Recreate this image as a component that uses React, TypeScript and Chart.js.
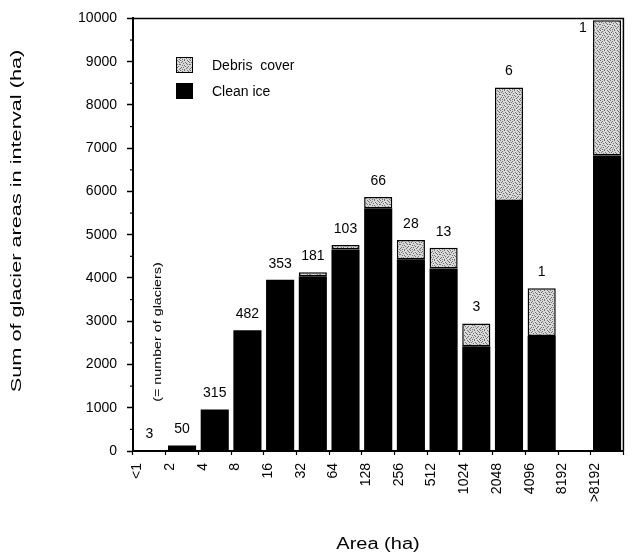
import React, { useEffect, useRef } from "react";
import { Chart, registerables } from "chart.js";

Chart.register(...registerables);

// Size classes (ha); each label marks the lower bound of its bar
const areaClasses = ["<1", "2", "4", "8", "16", "32", "64", "128", "256", "512", "1024", "2048", "4096", "8192", ">8192"];
// Summed glacier area per class (ha)
const cleanIce = [20, 130, 960, 2790, 3960, 4040, 4660, 5610, 4430, 4220, 2420, 5780, 2660, 0, 6830];
const debrisCover = [0, 0, 0, 0, 0, 90, 100, 260, 450, 480, 530, 2620, 1100, 0, 3130];
// Number of glaciers in each class
const glacierCounts: (number | null)[] = [3, 50, 315, 482, 353, 181, 103, 66, 28, 13, 3, 6, 1, null, 1];

const Y_MAX = 10000;
const Y_STEP = 1000;

const FONT = "'Liberation Sans', Arial, Helvetica, sans-serif";

// Fine stipple used for the debris-covered part
function makeStipple(): CanvasPattern | string {
  const mask = [
    "1000100100",
    "0010000010",
    "0100010001",
    "0001001000",
    "1000000101",
    "0010100000",
    "0000010010",
    "0101000100",
    "1000001000",
    "0010100001",
  ];
  const c = document.createElement("canvas");
  c.width = mask[0].length;
  c.height = mask.length;
  const g = c.getContext("2d");
  if (!g) return "#c8c8c8";
  g.fillStyle = "#d8d8d8";
  g.fillRect(0, 0, c.width, c.height);
  g.fillStyle = "#707070";
  mask.forEach((row, y) =>
    row.split("").forEach((ch, x) => {
      if (ch === "1") g.fillRect(x, y, 1, 1);
    })
  );
  return g.createPattern(c, "repeat") || "#c8c8c8";
}

function drawText(
  ctx: CanvasRenderingContext2D,
  text: string,
  x: number,
  y: number,
  font: string,
  stretch: number,
  vertical: boolean,
  align: CanvasTextAlign = "center"
) {
  ctx.save();
  ctx.translate(x, y);
  if (vertical) ctx.rotate(-Math.PI / 2);
  ctx.scale(stretch, 1);
  ctx.font = font;
  ctx.fillStyle = "#000";
  ctx.textAlign = align;
  ctx.textBaseline = "middle";
  ctx.fillText(text, 0, 0);
  ctx.restore();
}

const decorations = {
  id: "glacierDecorations",
  afterDatasetsDraw(chart: any) {
    const ctx: CanvasRenderingContext2D = chart.ctx;
    const { left, right, top, bottom } = chart.chartArea;
    const yScale = chart.scales.y;
    const meta = chart.getDatasetMeta(0);

    // frame on top and right
    ctx.save();
    ctx.strokeStyle = "#000";
    ctx.lineWidth = 1.5;
    ctx.beginPath();
    ctx.moveTo(left, top);
    ctx.lineTo(right, top);
    ctx.lineTo(right, bottom);
    ctx.stroke();

    // minor ticks on the value axis
    ctx.lineWidth = 1.2;
    for (let v = Y_STEP / 2; v < Y_MAX; v += Y_STEP) {
      const py = yScale.getPixelForValue(v);
      ctx.beginPath();
      ctx.moveTo(left - 3, py);
      ctx.lineTo(left, py);
      ctx.stroke();
    }
    ctx.restore();

    // glacier counts above the bars (beside the bar when it reaches the frame)
    glacierCounts.forEach((n, i) => {
      if (n === null) return;
      const total = cleanIce[i] + debrisCover[i];
      const bar = meta.data[i];
      const barTop = yScale.getPixelForValue(total);
      let px = bar.x;
      let py = barTop - 16;
      if (py < top + 8) {
        px = bar.x - bar.width / 2 - 10;
        py = barTop + 8;
      }
      drawText(ctx, String(n), px, py, `14px ${FONT}`, 1, false);
    });

    // legend
    const ds = chart.data.datasets;
    const items = [ds[1], ds[0]];
    items.forEach((d: any, k: number) => {
      const bx = 176;
      const by = 57 + k * 26;
      ctx.save();
      ctx.fillStyle = d.backgroundColor;
      ctx.fillRect(bx, by, 17, 16);
      ctx.strokeStyle = "#000";
      ctx.lineWidth = 1;
      ctx.strokeRect(bx + 0.5, by + 0.5, 16, 15);
      ctx.restore();
      drawText(ctx, d.label, 212, by + 9, `14px ${FONT}`, 1, false, "left");
    });

    // axis titles and note
    drawText(ctx, "Sum of glacier areas in interval (ha)", 17, 221, `14px ${FONT}`, 1.55, true);
    drawText(ctx, "Area (ha)", 378, 545, `16px ${FONT}`, 1.25, false);
    drawText(ctx, "(= number of glaciers)", 158, 332, `11px ${FONT}`, 1.3, true);
  },
};

export default function App() {
  const canvasRef = useRef<HTMLCanvasElement | null>(null);

  useEffect(() => {
    const canvas = canvasRef.current;
    if (!canvas) return;
    const stipple = makeStipple();

    const chart = new Chart(canvas, {
      type: "bar",
      data: {
        labels: areaClasses,
        datasets: [
          {
            label: "Clean ice",
            data: cleanIce,
            backgroundColor: "#000",
            borderColor: "#000",
            borderWidth: 0,
            barPercentage: 0.86,
            categoryPercentage: 1,
          },
          {
            label: "Debris  cover",
            data: debrisCover,
            backgroundColor: stipple as any,
            borderColor: "#000",
            borderWidth: 1.5,
            borderSkipped: false,
            barPercentage: 0.86,
            categoryPercentage: 1,
          },
        ],
      },
      options: {
        responsive: false,
        animation: false,
        devicePixelRatio: 1,
        layout: { padding: { top: 15, right: 4, left: 0, bottom: 0 } },
        plugins: {
          legend: { display: false },
          tooltip: { enabled: false },
          title: { display: false },
        },
        scales: {
          x: {
            stacked: true,
            offset: true,
            grid: {
              offset: true,
              drawOnChartArea: false,
              drawTicks: true,
              tickLength: 4,
              tickColor: "#000",
              tickWidth: 1.2,
            },
            border: { display: true, color: "#000", width: 2 },
            ticks: {
              autoSkip: false,
              maxRotation: 90,
              minRotation: 90,
              labelOffset: -12,
              padding: 8,
              color: "#000",
              font: { family: FONT, size: 14 },
            },
            afterFit(scale: any) {
              scale.height = 102;
            },
          },
          y: {
            stacked: true,
            min: 0,
            max: Y_MAX,
            grid: {
              drawOnChartArea: false,
              drawTicks: true,
              tickLength: 6,
              tickColor: "#000",
              tickWidth: 1.5,
            },
            border: { display: true, color: "#000", width: 2 },
            ticks: {
              stepSize: Y_STEP,
              padding: 10,
              color: "#000",
              font: { family: FONT, size: 14 },
              callback: (v: any) => String(v),
            },
            afterFit(scale: any) {
              scale.width = 133;
            },
          },
        },
      },
      plugins: [decorations],
    });

    return () => chart.destroy();
  }, []);

  return (
    <div style={{ position: "fixed", left: 0, top: 0, width: 632, height: 553, background: "#fff" }}>
      <canvas ref={canvasRef} width={632} height={553} style={{ display: "block" }} />
    </div>
  );
}
